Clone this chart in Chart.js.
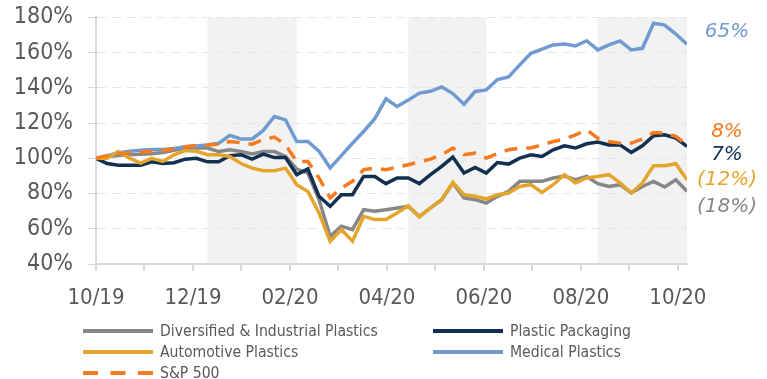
<!DOCTYPE html>
<html>
<head>
<meta charset="utf-8">
<script src="https://cdn.jsdelivr.net/npm/chart.js@4.4.1/dist/chart.umd.min.js"></script>
<style>
  html, body { margin: 0; padding: 0; background: #fff; }
  #wrap { position: relative; width: 767px; height: 379px; }
  #legend { position: absolute; left: 0; top: 0; width: 767px; height: 379px; pointer-events: none;
            font-family: 'DejaVu Sans Condensed', 'DejaVu Sans', sans-serif; font-size: 15.6px; color: #595959; }
  .item { position: absolute; display: flex; align-items: center; white-space: nowrap; }
  .item svg { margin-right: 7px; }
</style>
</head>
<body>
<div id="wrap">
  <canvas id="chart" width="767" height="379"></canvas>
  <div id="legend"></div>
</div>
<script>
// weekly index values, Oct 2019 - Oct 2020 (start = 100%)
const diversified = [100, 101, 101.5, 102, 102.3, 102.6, 103.3, 104.5, 105.8, 105.8, 105.8, 103.8, 104.8, 103.8, 102.5, 103.8, 103.8, 101, 93.9, 91.6,
  76.5, 55.7, 61.4, 59.5, 70.8, 69.9, 70.8, 71.8, 72.7, 67, 71.8, 76.5, 86, 77.5, 76.5, 74.6, 78.4, 81.2, 86.9, 86.9,
  86.9, 88.8, 89.9, 87.8, 89.7, 85.6, 84, 85, 80.3, 84, 86.9, 83.7, 87.8, 81.2];
const packaging = [100, 97, 96, 96, 96, 98, 97, 97.5, 99.5, 100, 98, 98, 101.5, 102, 99.5, 102.4, 100.4, 100.4, 90.7, 93.9,
  78.4, 72.7, 79.3, 79.3, 89.7, 89.7, 85.6, 88.8, 88.8, 85.6, 90.7, 95.4, 100.7, 91.6, 94.8, 91.6, 97.6, 96.7, 100.1, 102,
  101, 104.8, 107.1, 105.8, 108.2, 109.2, 107.6, 107.6, 103.3, 107.1, 112.8, 113.3, 111.4, 106.7];
const automotive = [100, 100, 103.8, 100.1, 97.3, 100, 98.2, 102, 104.4, 104, 102, 102, 101, 97, 94.4, 92.9, 92.9, 94.4, 85, 81.2,
  69, 52.9, 59.5, 52.9, 67, 65.2, 65.2, 69, 73.1, 66.7, 71.8, 76.5, 86.3, 79.3, 78.4, 76.9, 79.3, 80.3, 84, 85,
  80.6, 85, 90.7, 86, 88.8, 89.7, 90.7, 86, 80.3, 86, 95.8, 95.8, 96.9, 87.8];
const medical = [100, 101.5, 103, 104, 104.5, 105, 105, 105.5, 106.5, 107, 107.5, 108.5, 113, 111, 111, 115.8, 123.7, 121.8, 109.5, 109.5,
  104, 94.5, 101.5, 108.5, 115.2, 122.5, 133.7, 129.4, 133, 137, 138, 140.5, 136.7, 130.7, 137.9, 138.8, 144.7, 146.2, 153, 159.6,
  162, 164.3, 164.9, 163.7, 166.7, 161.5, 164.3, 166.6, 161.5, 162.4, 176.6, 175.6, 170.5, 164.7];
const sp500 = [100, 101.5, 102.5, 103, 103.5, 104, 104.5, 105.2, 106.5, 107.3, 107.5, 108, 109.5, 108.8, 108, 110.5, 112, 107.6, 98.2, 98.2,
  88.8, 77.5, 83.1, 86.9, 93.5, 94.4, 93.5, 95, 96.3, 98, 99.5, 102, 105.8, 102, 102.9, 100.1, 102.6, 104.8, 105.8, 105.8,
  107.6, 109.5, 110.9, 113.3, 116.1, 111.4, 109.5, 108.6, 108.6, 110.9, 114.6, 114.3, 112.4, 107.6];

const seriesNames = ['Diversified & Industrial Plastics', 'Plastic Packaging', 'Automotive Plastics', 'Medical Plastics', 'S&P 500'];
const endLabels = ['(18%)', '7%', '(12%)', '65%', '8%'];
const monthLabels = ['10/19', '', '12/19', '', '02/20', '', '04/20', '', '06/20', '', '08/20', '', '10/20'];
const shadedWeeks = [[10, 18], [28, 35], [45, 53]];

const weeks = diversified.map((_, i) => i);
const weeksPerMonth = 30.44 / 7;

const colors = ['#878787', '#12304f', '#e5a52c', '#6f9bd0', '#f47b20'];
const drawOrder = [4, 3, 1, 2, 0];
const endLabelAt = [72.5, 102, 87.8, 172, 115.2];
const tickFont = "'DejaVu Sans Condensed', 'DejaVu Sans', sans-serif";

const bandPlugin = {
  id: 'bands',
  beforeDraw(chart) {
    const { ctx, chartArea, scales } = chart;
    ctx.save();
    ctx.fillStyle = '#f2f2f2';
    shadedWeeks.forEach(b => {
      const x1 = scales.x.getPixelForValue(b[0]);
      const x2 = scales.x.getPixelForValue(b[1]);
      ctx.fillRect(x1, chartArea.top, x2 - x1, chartArea.bottom - chartArea.top);
    });
    ctx.restore();
  }
};

const endLabelPlugin = {
  id: 'endLabels',
  afterDatasetsDraw(chart) {
    const { ctx, scales } = chart;
    ctx.save();
    ctx.font = 'italic 20px "DejaVu Sans", sans-serif';
    ctx.textAlign = 'center';
    ctx.textBaseline = 'middle';
    endLabels.forEach((t, i) => {
      ctx.fillStyle = colors[i];
      ctx.fillText(t, 727, scales.y.getPixelForValue(endLabelAt[i]));
    });
    ctx.restore();
  }
};

const allSeries = [diversified, packaging, automotive, medical, sp500];

const ctx = document.getElementById('chart');
const chart = new Chart(ctx, {
  type: 'line',
  data: {
    labels: weeks,
    datasets: allSeries.map((d, i) => ({
      label: seriesNames[i],
      data: d,
      borderColor: colors[i],
      backgroundColor: colors[i],
      borderWidth: 3.5,
      borderDash: i === 4 ? [13, 9] : [],
      pointRadius: 0,
      tension: 0,
      order: drawOrder[i]
    }))
  },
  options: {
    responsive: false,
    animation: false,
    devicePixelRatio: 1,
    layout: { padding: { top: 17, right: 80, bottom: 72, left: 0 } },
    plugins: {
      legend: { display: false },
      tooltip: { enabled: false }
    },
    scales: {
      x: {
        type: 'linear',
        min: 0,
        max: weeks.length - 1,
        afterBuildTicks: scale => {
          scale.ticks = monthLabels.map((l, m) => ({ value: m * weeksPerMonth }));
        },
        afterFit: scale => { scale.height = 43; },
        grid: { drawOnChartArea: false, tickLength: 7, tickColor: '#d9d9d9', lineWidth: 2 },
        border: { color: '#d9d9d9', width: 2 },
        ticks: {
          autoSkip: false,
          maxRotation: 0,
          padding: 14,
          color: '#595959',
          font: { family: tickFont, size: 22 },
          callback: (v, idx) => monthLabels[idx]
        }
      },
      y: {
        min: 40,
        max: 180,
        afterFit: scale => { scale.width = 96; },
        grid: { color: '#e6e6e6', lineWidth: 1, tickLength: 8, tickColor: '#d9d9d9' },
        border: { color: '#d9d9d9', width: 2, dash: [9, 6] },
        ticks: {
          stepSize: 20,
          padding: 15,
          color: '#595959',
          font: { family: tickFont, size: 23, lineHeight: 0.2 },
          callback: v => v + '%'
        }
      }
    }
  },
  plugins: [bandPlugin, endLabelPlugin]
});

// two-column legend below the chart
const legend = document.getElementById('legend');
const legendSlots = [[83, 331], [433, 331], [83, 352], [433, 352], [83, 373]];
chart.data.datasets.forEach((ds, i) => {
  const item = document.createElement('div');
  item.className = 'item';
  item.style.left = legendSlots[i][0] + 'px';
  item.style.top = (legendSlots[i][1] - 10) + 'px';
  item.style.height = '20px';
  const dash = ds.borderDash.length ? 'stroke-dasharray="15 12.5"' : '';
  item.innerHTML = '<svg width="70" height="6"><line x1="0" y1="3" x2="70" y2="3" stroke="' + ds.borderColor +
    '" stroke-width="4" ' + dash + '/></svg><span>' + ds.label + '</span>';
  legend.appendChild(item);
});
</script>
</body>
</html>
